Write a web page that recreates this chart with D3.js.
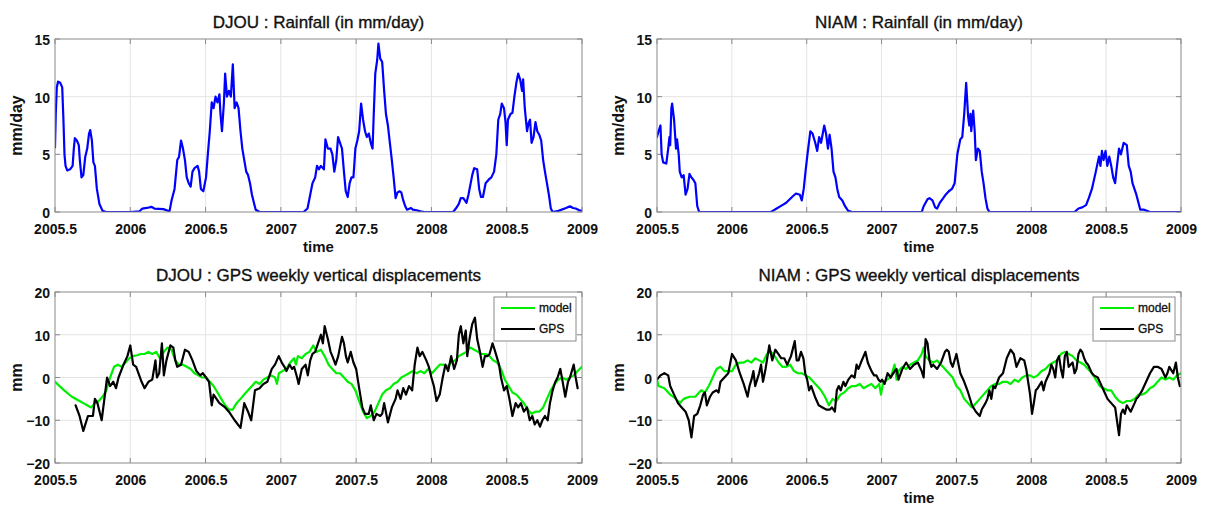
<!DOCTYPE html>
<html>
<head>
<meta charset="utf-8">
<script src="https://cdn.jsdelivr.net/npm/d3@7"></script>
<style>
  html, body { margin: 0; padding: 0; background: #fff; }
  svg { display: block; font-family: "Liberation Sans", Arial, Helvetica, sans-serif; }
</style>
</head>
<body>
<svg id="chart" width="1208" height="507"></svg>
<script>
// ---- axis ticks ----
const xTickValues = [2005.5, 2006, 2006.5, 2007, 2007.5, 2008, 2008.5, 2009];
const xTickLabels = ["2005.5", "2006", "2006.5", "2007", "2007.5", "2008", "2008.5", "2009"];
const rainTicks = [0, 5, 10, 15];
const dispTicks = [-20, -10, 0, 10, 20];

// ---- DJOU rainfall (mm/day), [decimal year, value] ----
const djouRain = [
  [2005.500,5.6],[2005.505,8.5],[2005.512,10.8],[2005.520,11.3],[2005.535,11.2],[2005.548,10.8],[2005.556,8.0],
  [2005.563,5.0],[2005.570,4.0],[2005.581,3.6],[2005.600,3.7],[2005.617,4.0],[2005.625,5.5],[2005.632,6.4],
  [2005.645,6.2],[2005.658,5.8],[2005.665,4.5],[2005.676,3.0],[2005.688,3.2],[2005.701,4.8],[2005.714,5.5],
  [2005.726,6.8],[2005.734,7.1],[2005.745,6.2],[2005.755,4.3],[2005.765,4.0],[2005.778,2.0],[2005.795,0.7],
  [2005.816,0.1],[2005.841,0],[2006.000,0],[2006.060,0.05],[2006.080,0.3],[2006.110,0.35],[2006.140,0.45],
  [2006.160,0.3],[2006.220,0.25],[2006.250,0.1],
  [2006.261,0.1],[2006.274,1.0],[2006.294,2.0],[2006.312,4.5],[2006.324,4.8],[2006.337,6.2],[2006.350,5.5],
  [2006.363,4.5],[2006.375,3.0],[2006.388,2.5],[2006.401,2.2],[2006.413,3.5],[2006.426,3.8],[2006.447,4.0],
  [2006.457,3.5],[2006.469,2.0],[2006.485,1.8],[2006.503,3.0],[2006.515,5.0],[2006.528,7.0],[2006.541,9.5],
  [2006.553,9.0],[2006.566,10.0],[2006.579,9.5],[2006.592,10.2],[2006.599,8.5],[2006.609,7.0],[2006.622,9.5],
  [2006.630,12.0],[2006.642,10.0],[2006.655,10.5],[2006.668,10.0],[2006.681,12.8],[2006.693,9.0],[2006.706,9.5],
  [2006.719,9.0],[2006.732,7.0],[2006.744,5.5],[2006.757,4.5],[2006.770,3.5],[2006.782,3.2],[2006.795,2.5],
  [2006.808,1.5],[2006.821,0.8],[2006.833,0.2],[2006.859,0],
  [2007.151,0],[2007.177,0.3],[2007.195,1.5],[2007.210,2.5],[2007.228,3.0],[2007.240,4.0],[2007.253,3.7],
  [2007.266,4.0],[2007.286,3.7],[2007.296,6.3],[2007.312,5.5],[2007.330,5.5],[2007.342,5.0],[2007.355,3.5],
  [2007.368,4.5],[2007.380,6.5],[2007.393,6.0],[2007.406,5.5],[2007.419,3.5],[2007.431,1.8],[2007.444,1.3],
  [2007.457,2.5],[2007.469,3.0],[2007.482,3.0],[2007.495,5.5],[2007.508,6.2],[2007.520,7.0],[2007.533,9.4],
  [2007.546,8.0],[2007.559,7.0],[2007.571,6.5],[2007.584,6.8],[2007.597,6.0],[2007.609,5.5],[2007.617,8.5],
  [2007.627,12.0],[2007.640,13.2],[2007.648,14.6],[2007.660,13.3],[2007.673,13.0],[2007.686,10.5],
  [2007.698,8.5],[2007.711,7.5],[2007.724,6.0],[2007.737,4.5],[2007.749,3.0],[2007.762,1.2],[2007.775,1.7],
  [2007.788,1.8],[2007.800,1.7],[2007.813,1.0],[2007.826,0.5],[2007.838,0.2],[2007.864,0.35],[2007.877,0.2],
  [2007.902,0.15],[2007.927,0.05],[2007.953,0],
  [2008.144,0],[2008.162,0.3],[2008.182,0.7],[2008.195,1.2],[2008.212,1.2],[2008.233,0.8],[2008.246,1.5],
  [2008.271,3.2],[2008.284,3.8],[2008.304,3.7],[2008.317,2.0],[2008.329,1.3],[2008.342,1.3],[2008.360,2.5],
  [2008.380,2.8],[2008.398,3.0],[2008.416,3.5],[2008.431,5.0],[2008.444,8.0],[2008.457,8.5],[2008.467,9.4],
  [2008.482,9.0],[2008.492,7.8],[2008.500,5.8],[2008.508,8.0],[2008.525,8.5],[2008.538,8.6],[2008.551,10.0],
  [2008.564,11.2],[2008.576,12.0],[2008.589,11.5],[2008.602,10.5],[2008.609,11.5],[2008.620,9.0],
  [2008.635,7.0],[2008.645,7.7],[2008.655,8.0],[2008.665,6.0],[2008.678,6.5],[2008.691,7.8],[2008.703,7.0],
  [2008.716,6.7],[2008.729,6.2],[2008.742,4.5],[2008.754,3.5],[2008.767,2.5],[2008.780,1.5],[2008.793,0.3],
  [2008.805,0],[2008.843,0.1],[2008.894,0.35],[2008.920,0.5],[2008.940,0.35],[2008.958,0.3],[2008.983,0.15],
  [2009.000,0.1]
];

// ---- NIAM rainfall (mm/day) ----
const niamRain = [
  [2005.500,6.5],[2005.510,7.0],[2005.523,7.5],[2005.531,5.0],[2005.541,4.3],[2005.562,4.2],[2005.575,5.5],
  [2005.583,6.5],[2005.588,5.8],[2005.596,9.0],[2005.601,9.4],[2005.614,8.0],[2005.627,5.5],[2005.634,6.3],
  [2005.645,5.0],[2005.652,3.5],[2005.665,3.0],[2005.678,3.2],[2005.691,1.5],[2005.704,2.0],[2005.717,3.3],
  [2005.730,3.0],[2005.743,2.8],[2005.756,2.5],[2005.769,0.5],[2005.782,0],
  [2006.260,0],[2006.273,0.1],[2006.299,0.3],[2006.337,0.6],[2006.363,0.8],[2006.402,1.3],[2006.428,1.6],
  [2006.454,1.5],[2006.467,1.0],[2006.480,2.0],[2006.492,3.5],[2006.505,5.0],[2006.524,7.0],[2006.539,6.8],
  [2006.557,6.0],[2006.570,5.3],[2006.583,6.5],[2006.596,6.0],[2006.617,7.5],[2006.629,6.8],[2006.642,5.5],
  [2006.653,6.7],[2006.666,5.5],[2006.679,3.5],[2006.692,3.0],[2006.704,2.0],[2006.717,1.3],[2006.738,1.0],
  [2006.756,0.5],[2006.777,0.1],[2006.803,0],
  [2007.268,0],[2007.281,0.5],[2007.307,1.1],[2007.320,1.2],[2007.340,1.0],[2007.358,0.4],[2007.371,0.3],
  [2007.389,0.8],[2007.412,1.2],[2007.428,1.5],[2007.449,1.8],[2007.470,2.0],[2007.488,2.5],[2007.506,5.0],
  [2007.526,6.3],[2007.539,6.5],[2007.552,8.5],[2007.565,11.2],[2007.578,8.3],[2007.586,7.5],[2007.594,8.5],
  [2007.599,7.0],[2007.612,8.8],[2007.622,7.0],[2007.630,4.5],[2007.643,5.5],[2007.656,5.3],[2007.669,3.5],
  [2007.681,2.5],[2007.694,1.2],[2007.707,0.3],[2007.720,0],
  [2008.289,0],[2008.315,0.3],[2008.340,0.4],[2008.366,0.6],[2008.384,1.2],[2008.405,2.0],[2008.431,3.5],
  [2008.452,4.8],[2008.462,4.0],[2008.472,5.3],[2008.483,4.5],[2008.496,5.3],[2008.508,4.0],[2008.521,4.8],
  [2008.534,4.0],[2008.547,3.0],[2008.560,2.5],[2008.568,3.5],[2008.586,5.5],[2008.599,5.0],[2008.617,6.0],
  [2008.638,5.8],[2008.651,4.0],[2008.664,3.5],[2008.676,2.5],[2008.689,2.0],[2008.702,1.5],[2008.728,0.2],
  [2008.754,0.2],[2008.793,0],[2009.000,0]
];

// ---- DJOU vertical displacement (mm): loading model ----
const djouModel = [
  [2005.500,-1],[2005.561,-3],[2005.612,-4.5],[2005.663,-5.5],[2005.688,-6],[2005.714,-6.5],[2005.739,-7],
  [2005.765,-6],[2005.790,-5.5],[2005.816,-4.5],[2005.841,-3],[2005.866,0],[2005.892,2.5],[2005.917,3],
  [2005.943,2.5],[2005.968,3.5],[2005.994,4.5],[2006.019,5.0],[2006.045,5.2],[2006.070,5.5],[2006.095,5.5],
  [2006.121,6.0],[2006.146,5.5],[2006.172,6.0],[2006.197,4.5],[2006.223,6.0],[2006.248,7.0],[2006.274,6.5],
  [2006.299,4.0],[2006.324,3.0],[2006.350,3.0],[2006.375,2.5],[2006.401,2.0],[2006.426,1.0],[2006.452,0.5],
  [2006.477,0],[2006.503,0],[2006.528,-1],[2006.553,-2],[2006.579,-3.5],[2006.604,-5],[2006.630,-6.5],
  [2006.655,-7.5],[2006.681,-7.5],[2006.706,-6],[2006.732,-5],[2006.757,-4],[2006.782,-3],[2006.808,-2],
  [2006.833,-1],[2006.859,-1.5],[2006.884,-0.5],[2006.910,0],[2006.935,0.5],[2006.961,0],[2006.974,-1.5],
  [2006.987,1],[2007.011,1.5],[2007.037,2],[2007.062,3.5],[2007.088,4.5],[2007.100,3],[2007.113,5],
  [2007.139,4.5],[2007.164,5.5],[2007.190,6],[2007.215,7.5],[2007.240,6],[2007.266,6.5],[2007.291,5],
  [2007.317,3],[2007.342,2],[2007.368,1],[2007.393,1],[2007.419,0],[2007.444,-1],[2007.469,-1.5],
  [2007.495,-3],[2007.520,-5.5],[2007.546,-8],[2007.571,-9.5],[2007.597,-9],[2007.622,-8],[2007.648,-6],
  [2007.673,-4],[2007.698,-3],[2007.724,-2.5],[2007.749,-1.5],[2007.775,-1],[2007.800,0],[2007.826,0.5],
  [2007.851,1],[2007.877,1.5],[2007.902,1],[2007.927,1.5],[2007.953,1],[2007.978,2],[2008.004,1],
  [2008.029,2],[2008.055,3],[2008.080,3],[2008.106,2.5],[2008.131,3.5],[2008.156,4],[2008.182,5],
  [2008.207,5.5],[2008.233,6],[2008.258,7],[2008.284,6.5],[2008.309,6],[2008.335,5.5],[2008.360,5.5],
  [2008.386,5],[2008.411,4],[2008.436,3.5],[2008.462,2],[2008.487,-0.5],[2008.513,-2],[2008.538,-3.5],
  [2008.564,-4],[2008.589,-5],[2008.614,-6],[2008.640,-7.5],[2008.665,-8.5],[2008.691,-8],[2008.716,-8],
  [2008.742,-7],[2008.767,-5],[2008.793,-3],[2008.818,-1.5],[2008.843,-0.5],[2008.869,0],[2008.894,-0.5],
  [2008.920,0],[2008.945,0.5],[2008.971,1.5],[2009.000,2.5]
];

// ---- DJOU vertical displacement (mm): weekly GPS ----
const djouGps = [
  [2005.637,-6.5],[2005.663,-9],[2005.688,-12.5],[2005.719,-9],[2005.752,-9],[2005.765,-5],[2005.782,-6],
  [2005.810,-10],[2005.828,-5],[2005.846,0],[2005.866,-2],[2005.887,-1],[2005.905,-2.5],[2005.922,0],
  [2005.955,3],[2005.981,5],[2006.000,7.5],[2006.019,3],[2006.039,2.5],[2006.075,-1],[2006.095,-2.5],
  [2006.121,-1],[2006.146,-0.5],[2006.167,4],[2006.177,0],[2006.192,1],[2006.210,8],[2006.223,0.5],
  [2006.240,4],[2006.266,7.5],[2006.286,7],[2006.299,4],[2006.312,2.5],[2006.337,3],[2006.363,6.5],
  [2006.388,6],[2006.413,4],[2006.439,1.5],[2006.464,0.5],[2006.482,1],[2006.503,0],[2006.523,-1],
  [2006.541,-6.5],[2006.553,-4],[2006.592,-6],[2006.630,-7],[2006.655,-8],[2006.693,-10],[2006.732,-11.8],
  [2006.757,-6],[2006.782,-8],[2006.803,-10],[2006.828,-3],[2006.859,-2.5],[2006.884,-1.5],[2006.910,-1],
  [2006.940,2],[2006.961,3],[2006.986,5],[2007.006,3.5],[2007.024,2.5],[2007.037,1.5],[2007.057,3],
  [2007.075,2],[2007.088,2.5],[2007.108,0],[2007.118,-1.5],[2007.139,2],[2007.164,3],[2007.179,0.5],
  [2007.195,4],[2007.210,5.5],[2007.228,6],[2007.266,10],[2007.279,8],[2007.291,12],[2007.312,9],
  [2007.330,6],[2007.342,5],[2007.363,3],[2007.381,5],[2007.406,9.5],[2007.419,8],[2007.432,5],
  [2007.444,3.5],[2007.464,6],[2007.482,3.5],[2007.500,2],[2007.520,-2.5],[2007.541,-7],[2007.559,-8.5],
  [2007.584,-8.5],[2007.597,-6.5],[2007.617,-10],[2007.635,-8.5],[2007.660,-9],[2007.673,-8.5],
  [2007.686,-6],[2007.711,-10.5],[2007.737,-7],[2007.762,-5],[2007.775,-3],[2007.795,-5],[2007.813,-2.5],
  [2007.831,-4],[2007.851,-2],[2007.872,-3],[2007.889,3],[2007.907,7],[2007.922,5],[2007.940,6],
  [2007.966,4],[2007.983,2.5],[2008.000,0],[2008.016,-2],[2008.034,-5.5],[2008.055,-4],[2008.075,0],
  [2008.093,3],[2008.111,1.5],[2008.131,5],[2008.151,2],[2008.169,4],[2008.182,10],[2008.195,12],
  [2008.212,8],[2008.228,11],[2008.238,5],[2008.253,9],[2008.271,12.5],[2008.289,14],[2008.304,9],
  [2008.322,6],[2008.340,2.5],[2008.355,5],[2008.373,5],[2008.386,5.5],[2008.406,8],[2008.424,6],
  [2008.449,3],[2008.462,0],[2008.482,-3],[2008.500,-2],[2008.518,-5],[2008.538,-9],[2008.559,-6],
  [2008.576,-7],[2008.594,-6],[2008.614,-8],[2008.635,-7],[2008.653,-10],[2008.670,-9],[2008.686,-11],
  [2008.703,-10],[2008.721,-11.5],[2008.737,-10],[2008.754,-9],[2008.772,-10],[2008.787,-6],[2008.805,-3],
  [2008.823,-1],[2008.838,0],[2008.856,2],[2008.869,-0.5],[2008.889,-4.5],[2008.907,-1],[2008.920,0],
  [2008.945,3],[2008.958,0],[2008.971,-2.5]
];

// ---- NIAM vertical displacement (mm): loading model ----
const niamModel = [
  [2005.500,-0.5],[2005.510,-2],[2005.549,-2.5],[2005.588,-4],[2005.627,-5],[2005.652,-6],[2005.678,-5],
  [2005.717,-4.5],[2005.756,-4.5],[2005.795,-3],[2005.820,-3.5],[2005.846,-2],[2005.872,0],[2005.898,2],
  [2005.924,2.5],[2005.950,1.5],[2005.976,1.5],[2006.001,1.5],[2006.027,3],[2006.053,3.5],[2006.079,3.5],
  [2006.105,4],[2006.131,3.5],[2006.156,4.5],[2006.182,4],[2006.208,3.5],[2006.234,5.5],[2006.260,6],
  [2006.286,5],[2006.312,3.5],[2006.337,2.5],[2006.363,2.5],[2006.389,3],[2006.415,1.5],[2006.441,1],
  [2006.467,1],[2006.492,0.5],[2006.518,0],[2006.544,-1],[2006.570,-2],[2006.596,-3],[2006.622,-4.5],
  [2006.648,-6.5],[2006.673,-5],[2006.699,-5.5],[2006.725,-4],[2006.751,-3.5],[2006.777,-2.5],
  [2006.803,-2],[2006.829,-2],[2006.855,-1.5],[2006.880,-2.5],[2006.906,-2],[2006.932,-1.5],[2006.958,-2.5],
  [2006.984,-1.5],[2006.996,-4],[2007.009,-1.5],[2007.035,-0.5],[2007.061,0],[2007.087,3],[2007.100,-0.5],
  [2007.113,1.5],[2007.139,2.5],[2007.164,2],[2007.190,3],[2007.216,3.5],[2007.242,4],[2007.268,5.5],
  [2007.281,7],[2007.294,5],[2007.320,4],[2007.345,3.5],[2007.371,4],[2007.397,3],[2007.423,2],
  [2007.449,1],[2007.475,0],[2007.500,-2],[2007.526,-3],[2007.552,-5],[2007.578,-6],[2007.604,-7],
  [2007.630,-6],[2007.656,-5],[2007.681,-4],[2007.707,-3],[2007.733,-2],[2007.759,-1.5],[2007.785,-1.5],
  [2007.811,-1],[2007.836,-1],[2007.862,-1.5],[2007.888,-0.5],[2007.914,-1],[2007.940,0],[2007.966,0.5],
  [2007.992,0.5],[2008.017,0],[2008.043,0.5],[2008.069,1.5],[2008.095,2],[2008.121,3],[2008.147,3.5],
  [2008.172,4],[2008.198,5.5],[2008.224,6],[2008.250,5.5],[2008.276,5],[2008.302,4],[2008.328,3.5],
  [2008.353,3],[2008.379,2],[2008.405,1],[2008.431,-0.5],[2008.457,-2],[2008.483,-2.5],[2008.509,-3],
  [2008.534,-3],[2008.560,-4.5],[2008.586,-5.5],[2008.612,-6],[2008.638,-5.5],[2008.664,-5.5],
  [2008.690,-5],[2008.715,-4],[2008.741,-4],[2008.767,-3.5],[2008.793,-2.5],[2008.819,-2],[2008.844,-1],
  [2008.870,0],[2008.896,-0.5],[2008.922,0],[2008.948,-0.5],[2008.974,0.5],[2009.000,1]
];

// ---- NIAM vertical displacement (mm): weekly GPS ----
const niamGps = [
  [2005.500,-0.5],[2005.523,0.5],[2005.549,1],[2005.575,0.5],[2005.588,-2],[2005.614,-4],[2005.640,-6],
  [2005.665,-7],[2005.691,-8],[2005.712,-10],[2005.730,-14],[2005.748,-9],[2005.769,-8.5],[2005.789,-6.5],
  [2005.808,-4],[2005.820,-3.5],[2005.833,-6.5],[2005.854,-4.5],[2005.872,-3.5],[2005.898,-3],
  [2005.911,-3.5],[2005.924,-1],[2005.950,0],[2005.976,1],[2006.001,5.5],[2006.027,4],[2006.053,1],
  [2006.079,-1.5],[2006.105,-4.5],[2006.118,-2],[2006.131,-0.5],[2006.144,1.5],[2006.156,-2],[2006.182,1],
  [2006.195,3],[2006.208,-1],[2006.225,2],[2006.250,7.5],[2006.270,4],[2006.290,6.5],[2006.310,5.5],
  [2006.330,4.5],[2006.350,4.5],[2006.370,3],[2006.395,5],[2006.420,8.5],[2006.433,4],[2006.446,4],
  [2006.462,6],[2006.478,4.5],[2006.490,1],[2006.503,-0.5],[2006.516,-3],[2006.530,-2],[2006.555,-4.5],
  [2006.580,-6.5],[2006.605,-7],[2006.630,-7.5],[2006.655,-7.5],[2006.668,-7],[2006.688,-8],[2006.701,-3],
  [2006.714,-2],[2006.727,-3],[2006.745,-1],[2006.758,-2],[2006.778,-0.5],[2006.800,0.5],[2006.820,0],
  [2006.833,3],[2006.846,2],[2006.862,3.5],[2006.892,6],[2006.908,3.5],[2006.920,2.5],[2006.933,1.5],
  [2006.950,0.5],[2006.965,0.5],[2006.980,-0.5],[2006.993,-1],[2007.003,-0.5],[2007.020,-1.5],
  [2007.040,1],[2007.061,0],[2007.087,1.5],[2007.100,2],[2007.113,-0.5],[2007.139,2],[2007.164,3.5],
  [2007.190,2],[2007.216,3],[2007.242,3.5],[2007.268,1.5],[2007.281,0],[2007.294,9],[2007.307,8],
  [2007.320,4],[2007.333,2.5],[2007.345,3],[2007.371,2],[2007.397,3.5],[2007.423,6],[2007.436,6.5],
  [2007.449,6],[2007.462,3.5],[2007.475,2.5],[2007.500,5.5],[2007.526,1],[2007.552,-1],[2007.578,-3.5],
  [2007.604,-6.5],[2007.630,-8],[2007.656,-9],[2007.669,-7.5],[2007.694,-6],[2007.707,-5],[2007.720,-3],
  [2007.733,-5],[2007.746,-2],[2007.759,-2.5],[2007.785,0],[2007.811,1],[2007.836,4.5],[2007.862,6.5],
  [2007.883,5.5],[2007.901,2.5],[2007.927,4.5],[2007.953,4],[2007.966,2],[2007.979,-1],[2007.992,-4],
  [2008.005,-8.5],[2008.017,-6],[2008.030,-3],[2008.043,-2.5],[2008.069,-1],[2008.082,-3],[2008.095,-1],
  [2008.121,1],[2008.134,3],[2008.147,2],[2008.160,0],[2008.172,4],[2008.185,5],[2008.198,2],[2008.211,0],
  [2008.224,5],[2008.237,6],[2008.250,2.5],[2008.276,3.5],[2008.289,1],[2008.302,2],[2008.315,5.5],
  [2008.328,6.5],[2008.340,6],[2008.353,4.5],[2008.366,3.5],[2008.379,3],[2008.405,1],[2008.418,0.5],
  [2008.444,0],[2008.457,-1],[2008.483,-3],[2008.509,-5],[2008.534,-6],[2008.560,-7],[2008.586,-13.5],
  [2008.599,-8.5],[2008.612,-7.5],[2008.625,-8.5],[2008.638,-6.5],[2008.664,-8],[2008.690,-6],
  [2008.702,-5],[2008.715,-4.5],[2008.741,-3],[2008.767,-1],[2008.793,1],[2008.819,2.5],[2008.844,2.5],
  [2008.870,2],[2008.896,0],[2008.909,1],[2008.922,2.5],[2008.948,1],[2008.966,3.5],[2008.979,0],
  [2008.992,-2]
];

// ---- panel layout ----
const panels = [
  { title: "DJOU : Rainfall (in mm/day)", x0: 55, x1: 582, y0: 39, y1: 212, yDomain: [0, 15], yTicks: rainTicks,
    yLabel: "mm/day", xLabel: true, series: [{ data: djouRain, color: "#0000ff", width: 2.2 }] },
  { title: "NIAM : Rainfall (in mm/day)", x0: 657, x1: 1181, y0: 39, y1: 212, yDomain: [0, 15], yTicks: rainTicks,
    yLabel: "mm/day", xLabel: true, series: [{ data: niamRain, color: "#0000ff", width: 2.2 }] },
  { title: "DJOU : GPS weekly vertical displacements", x0: 55, x1: 582, y0: 292, y1: 463, yDomain: [-20, 20],
    yTicks: dispTicks, yLabel: "mm", xLabel: false, legend: true,
    series: [{ data: djouModel, color: "#00ee00", width: 2.2, name: "model" },
             { data: djouGps, color: "#000000", width: 2.2, name: "GPS" }] },
  { title: "NIAM : GPS weekly vertical displacements", x0: 657, x1: 1181, y0: 292, y1: 463, yDomain: [-20, 20],
    yTicks: dispTicks, yLabel: "mm", xLabel: true, legend: true,
    series: [{ data: niamModel, color: "#00ee00", width: 2.2, name: "model" },
             { data: niamGps, color: "#000000", width: 2.2, name: "GPS" }] }
];

const svg = d3.select("#chart");
const frameColor = "#8a8a8a";
const gridColor = "#e4e4e4";
const textColor = "#111";

panels.forEach((p, i) => {
  const x = d3.scaleLinear().domain([2005.5, 2009]).range([p.x0, p.x1]);
  const y = d3.scaleLinear().domain(p.yDomain).range([p.y1, p.y0]);
  const g = svg.append("g");

  const clipId = "clip" + i;
  svg.append("clipPath").attr("id", clipId)
    .append("rect").attr("x", p.x0).attr("y", p.y0).attr("width", p.x1 - p.x0).attr("height", p.y1 - p.y0);

  // grid
  g.append("g").selectAll("line").data(xTickValues.slice(1, -1)).join("line")
    .attr("x1", d => x(d)).attr("x2", d => x(d)).attr("y1", p.y0).attr("y2", p.y1)
    .attr("stroke", gridColor).attr("stroke-width", 1);
  g.append("g").selectAll("line").data(p.yTicks.slice(1, -1)).join("line")
    .attr("x1", p.x0).attr("x2", p.x1).attr("y1", d => y(d)).attr("y2", d => y(d))
    .attr("stroke", gridColor).attr("stroke-width", 1);

  // bottom axis labels via d3 axis
  const xAxis = d3.axisBottom(x).tickValues(xTickValues)
    .tickFormat((d, k) => xTickLabels[k]).tickSize(0).tickPadding(0);
  const gx = g.append("g").attr("transform", `translate(0,${p.y1})`).call(xAxis);
  gx.select(".domain").remove();
  gx.selectAll("text").attr("dy", null).attr("y", 22)
    .style("font-size", "14px").style("font-weight", "bold").style("fill", textColor);

  const yAxis = d3.axisLeft(y).tickValues(p.yTicks).tickSize(0).tickPadding(0);
  const gy = g.append("g").attr("transform", `translate(${p.x0},0)`).call(yAxis);
  gy.select(".domain").remove();
  gy.selectAll("text").attr("x", -5).attr("dy", "0.4em")
    .style("font-size", "14px").style("font-weight", "bold").style("fill", textColor);

  // inward tick marks on all four sides
  const tl = 5;
  const ticksG = g.append("g").attr("stroke", frameColor).attr("stroke-width", 1);
  xTickValues.forEach(v => {
    ticksG.append("line").attr("x1", x(v)).attr("x2", x(v)).attr("y1", p.y1).attr("y2", p.y1 - tl);
    ticksG.append("line").attr("x1", x(v)).attr("x2", x(v)).attr("y1", p.y0).attr("y2", p.y0 + tl);
  });
  p.yTicks.forEach(v => {
    ticksG.append("line").attr("x1", p.x0).attr("x2", p.x0 + tl).attr("y1", y(v)).attr("y2", y(v));
    ticksG.append("line").attr("x1", p.x1).attr("x2", p.x1 - tl).attr("y1", y(v)).attr("y2", y(v));
  });

  // series
  const line = d3.line().x(d => x(d[0])).y(d => y(d[1]));
  const sg = g.append("g").attr("clip-path", `url(#${clipId})`);
  p.series.forEach(s => {
    sg.append("path").datum(s.data).attr("d", line)
      .attr("fill", "none").attr("stroke", s.color).attr("stroke-width", s.width)
      .attr("stroke-linejoin", "round").attr("stroke-linecap", "round");
  });

  // frame
  g.append("rect").attr("x", p.x0).attr("y", p.y0).attr("width", p.x1 - p.x0).attr("height", p.y1 - p.y0)
    .attr("fill", "none").attr("stroke", frameColor).attr("stroke-width", 1);

  // title (slightly heavier than regular weight)
  g.append("text").attr("x", (p.x0 + p.x1) / 2).attr("y", p.y0 - 11).attr("text-anchor", "middle")
    .style("font-size", "17px").style("fill", textColor)
    .style("stroke", textColor).style("stroke-width", "0.35px").text(p.title);

  // y label
  const ly = (p.y0 + p.y1) / 2;
  g.append("text").attr("transform", `translate(${p.x0 - 33},${ly}) rotate(-90)`)
    .attr("text-anchor", "middle").style("font-size", "16px").style("font-weight", "bold")
    .style("fill", textColor).text(p.yLabel);

  // x label
  if (p.xLabel) {
    g.append("text").attr("x", (p.x0 + p.x1) / 2).attr("y", p.y1 + 40).attr("text-anchor", "middle")
      .style("font-size", "15px").style("font-weight", "bold").style("fill", textColor).text("time");
  }

  // legend
  if (p.legend) {
    const lx1 = p.x1 - 6, lx0 = lx1 - 82, ly0 = p.y0 + 5, ly1 = ly0 + 44;
    const lg = g.append("g");
    lg.append("rect").attr("x", lx0).attr("y", ly0).attr("width", lx1 - lx0).attr("height", ly1 - ly0)
      .attr("fill", "#fff").attr("stroke", frameColor).attr("stroke-width", 1);
    p.series.forEach((s, k) => {
      const yy = ly0 + 11 + k * 21;
      lg.append("line").attr("x1", lx0 + 7).attr("x2", lx0 + 41).attr("y1", yy).attr("y2", yy)
        .attr("stroke", s.color).attr("stroke-width", s.width);
      lg.append("text").attr("x", lx0 + 45).attr("y", yy).attr("dy", "0.35em")
        .style("font-size", "12px").style("fill", textColor)
        .style("stroke", textColor).style("stroke-width", "0.3px").text(s.name);
    });
  }
});
</script>
</body>
</html>
